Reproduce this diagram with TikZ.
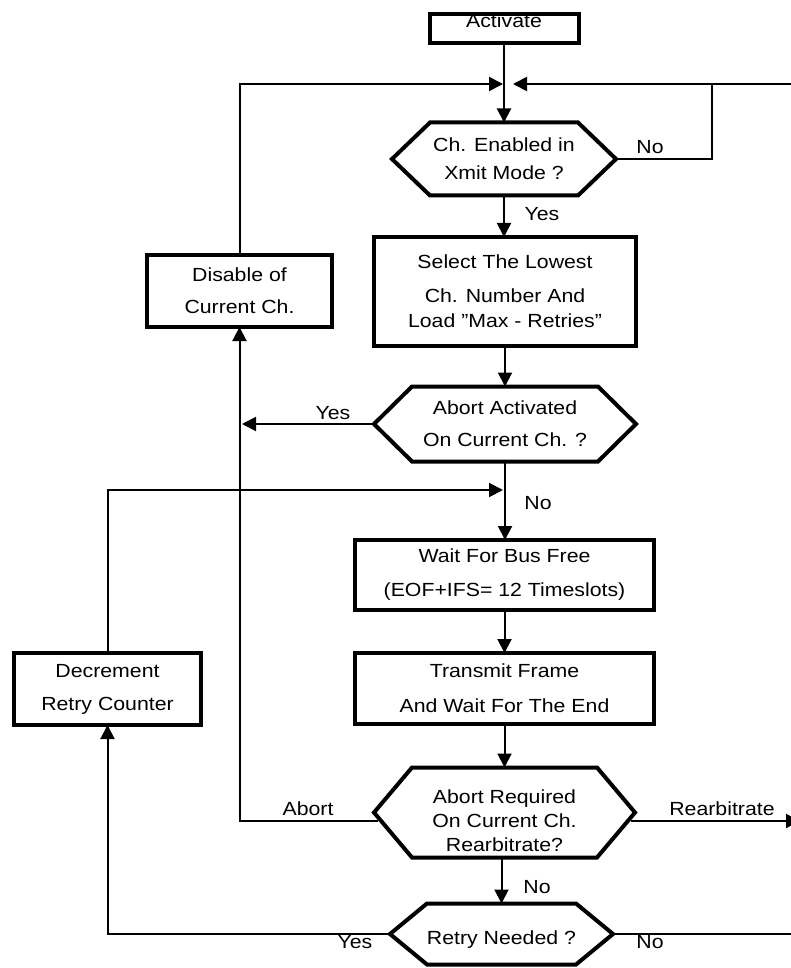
\documentclass[tikz,border=0pt]{standalone}
\usepackage{fontspec}
\setmainfont{Liberation Sans}[FakeStretch=1.12]
\usetikzlibrary{arrows.meta}
\newcommand\drawhexa[2]{%
  \draw[shapeline] (#1.west) -- ([xshift=#2pt]#1.north west) -- ([xshift=-#2pt]#1.north east)
    -- (#1.east) -- ([xshift=-#2pt]#1.south east) -- ([xshift=#2pt]#1.south west) -- cycle;}
\begin{document}
\begin{tikzpicture}[x=1pt,y=-1pt,
  shapeline/.style={line width=4pt},
  box/.style={draw, shapeline, inner sep=0pt, outer sep=0pt, align=center, font=\fontsize{19}{34}\selectfont},
  hexn/.style={inner sep=0pt, outer sep=0pt, align=center, font=\fontsize{19}{32}\selectfont},
  txt/.style={inner sep=0pt, outer sep=0pt, align=center, font=\fontsize{19}{24}\selectfont},
  lbl/.style={anchor=base, inner sep=0pt, font=\fontsize{19}{22}\selectfont},
  conn/.style={line width=2pt, -{Triangle[length=14pt,width=14pt]}},
  wire/.style={line width=2pt}]
\useasboundingbox (0,0) rectangle (791,968);

% shapes
\node[box, minimum width=149pt, minimum height=29pt] (act) at (504,28.5) {};
\node[txt] (acttext) at (504,20.5) {Activate};

\node[hexn, minimum width=224pt, minimum height=73pt, font=\fontsize{19}{28}\selectfont] (h1) at (504,159) {Ch. Enabled in\\Xmit Mode ?};
\drawhexa{h1}{38}

\node[box, minimum width=262pt, minimum height=109pt] (sel) at (505,291.5) {Select The Lowest\\Ch. Number And\\[-9pt]Load ”Max - Retries”};

\node[box, minimum width=185pt, minimum height=72pt, font=\fontsize{19}{32}\selectfont] (dis) at (239.5,291) {Disable of\\Current Ch.};

\node[hexn, minimum width=262pt, minimum height=75pt] (h2) at (505,424) {Abort Activated\\On Current Ch. ?};
\drawhexa{h2}{38}

\node[box, minimum width=299pt, minimum height=70pt] (wait) at (504.5,575) {Wait For Bus Free\\(EOF+IFS= 12 Timeslots)};

\node[box, minimum width=299pt, minimum height=71pt, font=\fontsize{19}{35}\selectfont] (tr) at (504.5,688.5) {Transmit Frame\\And Wait For The End};

\node[box, minimum width=187pt, minimum height=72pt, font=\fontsize{19}{33}\selectfont] (dec) at (107.5,689) {Decrement\\Retry Counter};

\node[hexn, minimum width=261pt, minimum height=90pt] (h3) at (504.5,812.5) {};
\drawhexa{h3}{38}
\node[txt] (h3text) at (504.5,821) {Abort Required\\On Current Ch.\\Rearbitrate?};

\node[hexn, minimum width=223pt, minimum height=61pt] (h4) at (501.5,934) {};
\drawhexa{h4}{37}
\node[lbl] (h4text) at (501.5,944) {Retry Needed ?};

% labels
\node[lbl] (lno1) at (650,154) {No};
\node[lbl] (lyes1) at (542,221) {Yes};
\node[lbl] (lyes2) at (333,419) {Yes};
\node[lbl] (lno2) at (538,509) {No};
\node[lbl] (labort) at (308,815) {Abort};
\node[lbl] (lrearb) at (722,815) {Rearbitrate};
\node[lbl] (lno3) at (537,893) {No};
\node[lbl] (lyes4) at (355,948) {Yes};
\node[lbl] (lno4) at (650,948) {No};

% free ends
\coordinate (jl) at (503,84);
\coordinate (jr) at (513,84);
\coordinate (offtop) at (791,84);
\coordinate (nocorner) at (712,84);
\coordinate (yesend) at (242,424);
\coordinate (retryend) at (503,490);
\coordinate (offre) at (800,821);
\coordinate (offno) at (791,934);

% connectors
\draw[conn] (act.south) -- (act.south |- h1.north);
\draw[conn] (dis.north) |- (jl);
\draw[conn] (offtop) -- (jr);
\draw[wire] (h1.east) -| (nocorner);
\draw[conn] (h1.south) -- (h1.south |- sel.north);
\draw[conn] (sel.south) -- (sel.south |- h2.north);
\draw[conn] (h2.west) -- (yesend);
\draw[conn] (h2.south) -- (h2.south |- wait.north);
\draw[conn] (dec.north) |- (retryend);
\draw[conn] (wait.south) -- (wait.south |- tr.north);
\draw[conn] (tr.south) -- (tr.south |- h3.north);
\draw[conn] ([xshift=4pt,yshift=-8.5pt]h3.west) -| (dis.south);
\draw[conn] ([xshift=-4pt,yshift=-8.5pt]h3.east) -- (offre);
\draw[conn] (h4.north |- h3.south) -- (h4.north);
\draw[conn] (h4.west) -| (dec.south);
\draw[wire] (h4.east) -- (offno);
\end{tikzpicture}
\end{document}
